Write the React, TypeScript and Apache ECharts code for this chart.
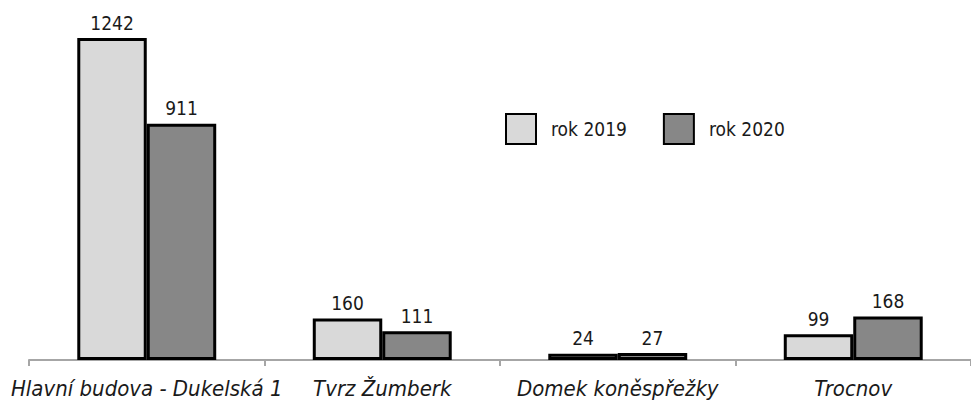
import React, { useEffect, useRef } from "react";
import * as echarts from "echarts";

const categories = ["Hlavní budova - Dukelská 1", "Tvrz Žumberk", "Domek koněspřežky", "Trocnov"];
const series2019 = [1242, 160, 24, 99];
const series2020 = [911, 111, 27, 168];
const seriesNames = ["rok 2019", "rok 2020"];

const FONT = "'DejaVu Sans Condensed', 'Liberation Sans Narrow', sans-serif";

export default function App() {
  const ref = useRef<HTMLDivElement>(null);
  useEffect(() => {
    if (!ref.current) return;
    const chart = echarts.init(ref.current, null, { renderer: "svg" });
    const barCommon = {
      type: "bar",
      barGap: "0%",
      barCategoryGap: "41%",
      label: {
        show: true,
        position: "top",
        distance: 6,
        color: "#1a1a1a",
        fontFamily: FONT,
        fontSize: 19,
      },
    };
    chart.setOption({
      animation: false,
      grid: { left: 29, width: 946, top: 23, bottom: 41 },
      legend: {
        data: seriesNames,
        left: 500,
        top: 108,
        itemWidth: 30,
        itemHeight: 30,
        itemGap: 36,
        icon: "rect",
        textStyle: {
          fontFamily: FONT,
          fontSize: 19,
          color: "#1a1a1a",
          padding: [0, 0, 0, 10],
        },
      },
      xAxis: {
        type: "category",
        data: categories,
        axisLine: { lineStyle: { color: "#a6a6a6", width: 2 } },
        axisTick: { show: true, length: 6, lineStyle: { color: "#a6a6a6", width: 2 } },
        axisLabel: {
          interval: 0,
          margin: 17,
          fontFamily: FONT,
          fontSize: 22,
          fontStyle: "italic",
          color: "#1a1a1a",
        },
      },
      yAxis: {
        type: "value",
        min: 0,
        max: 1300,
        show: false,
        splitLine: { show: false },
      },
      series: [
        {
          ...barCommon,
          name: seriesNames[0],
          data: series2019,
          itemStyle: { color: "#d9d9d9", borderColor: "#000", borderWidth: 3 },
        },
        {
          ...barCommon,
          name: seriesNames[1],
          data: series2020,
          itemStyle: { color: "#878787", borderColor: "#000", borderWidth: 3 },
        },
      ],
    });
    return () => chart.dispose();
  }, []);
  return <div ref={ref} style={{ width: 971, height: 401, position: "absolute", left: 0, top: 0 }} />;
}
